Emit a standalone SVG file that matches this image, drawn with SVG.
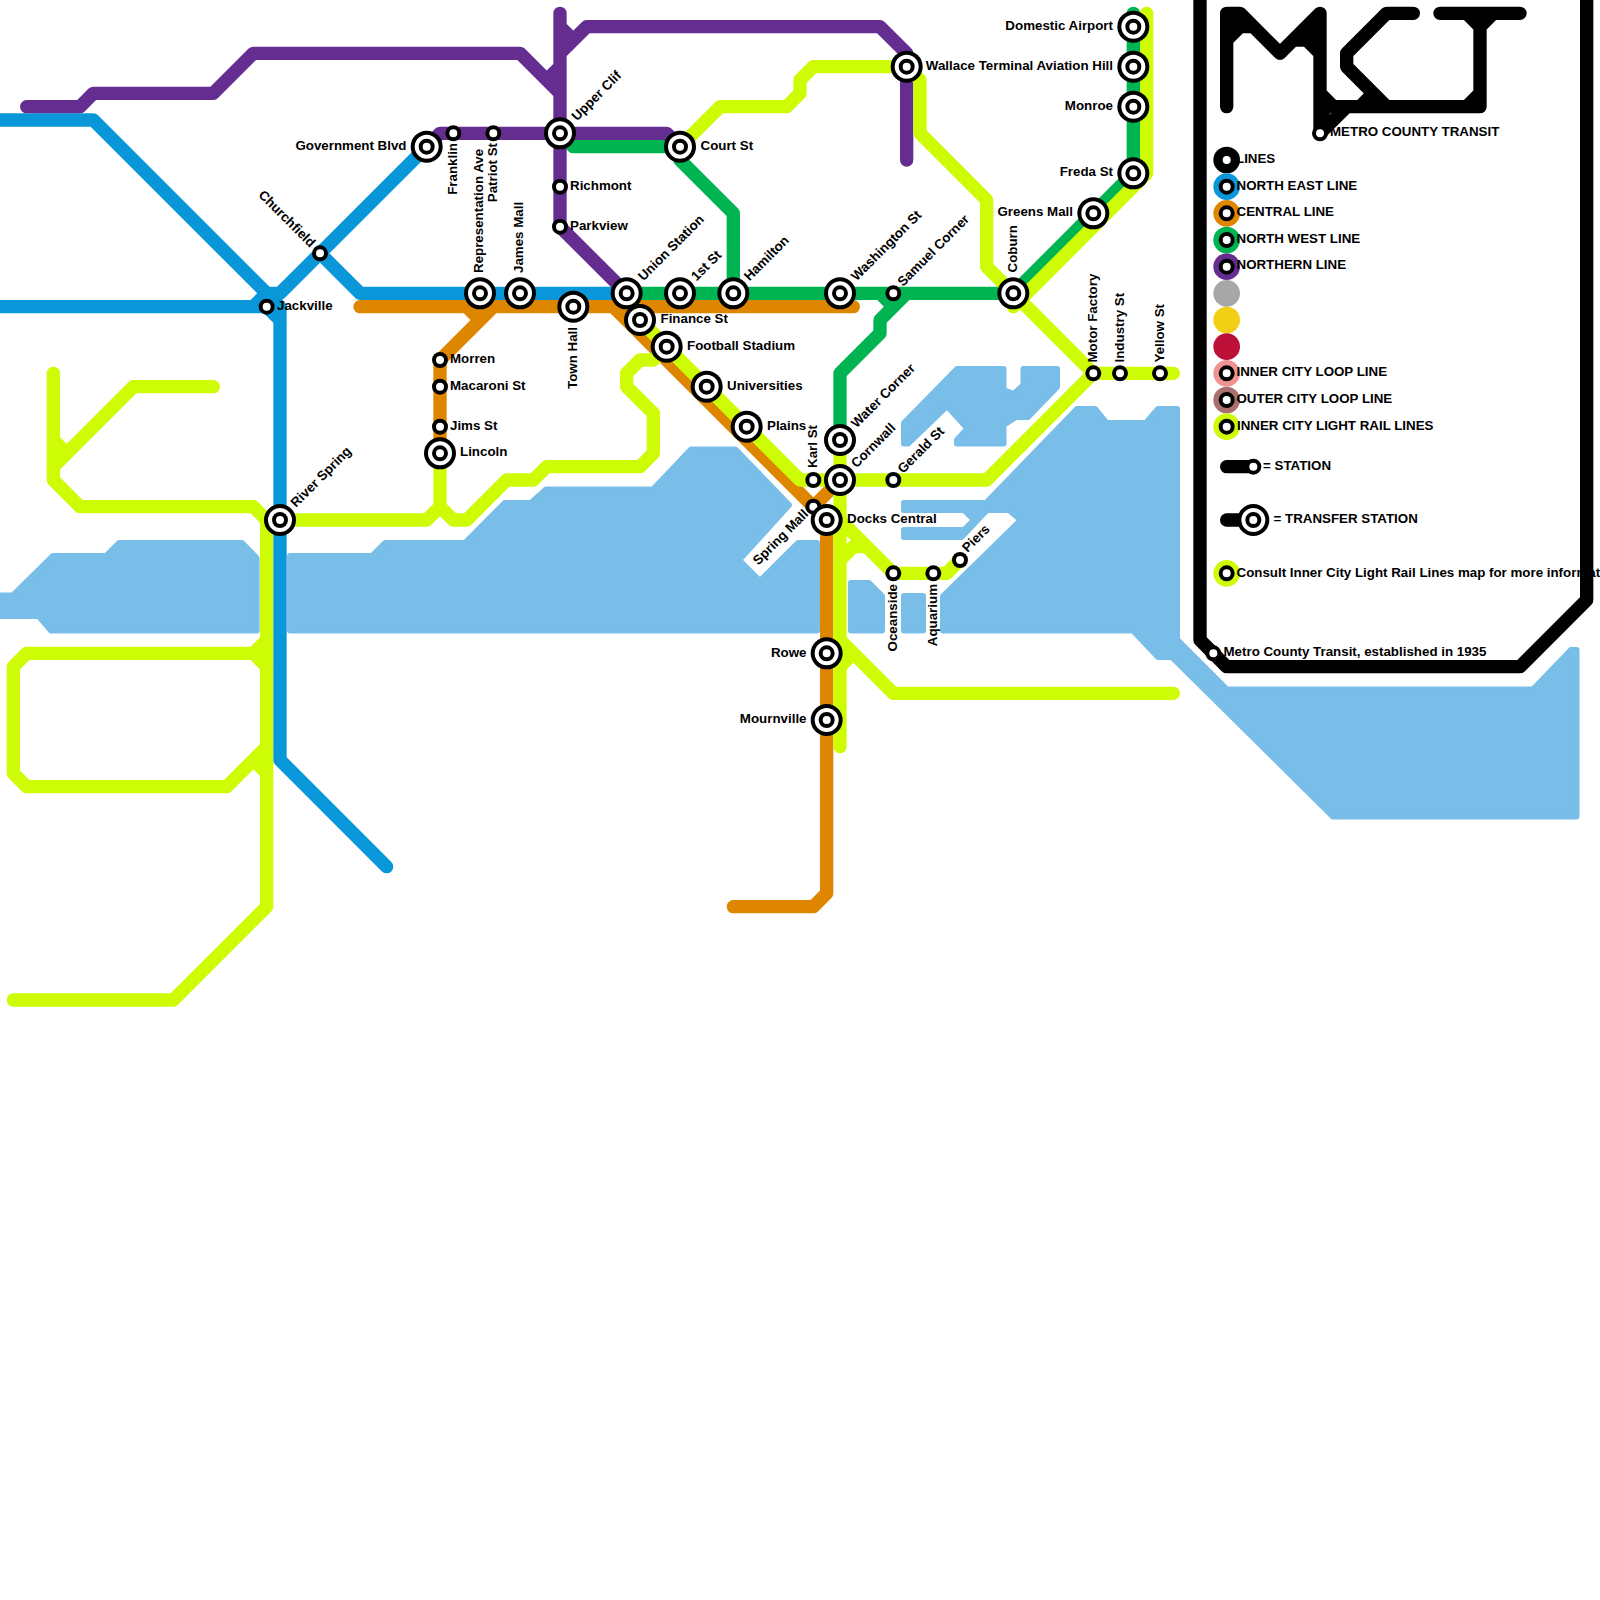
<svg xmlns="http://www.w3.org/2000/svg" xmlns:xlink="http://www.w3.org/1999/xlink" width="1600" height="1600" viewBox="0 0 1600 1600">
<style>
.l{fill:none;stroke-width:13.33;stroke-linecap:round;stroke-linejoin:round}
.b{stroke:#0a97d9}.o{stroke:#df8600}.g{stroke:#00b451}.p{stroke:#662d91}.y{stroke:#cefc06}.k{stroke:#000}
.w{fill:#79bde9;stroke:#79bde9;stroke-width:6;stroke-linejoin:round}
text{font-family:"Liberation Sans",Arial,sans-serif;font-weight:700;font-size:13.33px;fill:#000}
.e{text-anchor:end}
.mk{fill:#fff;stroke:#000;stroke-width:4}
</style>
<defs>
<g id="st"><circle r="6" class="mk"/></g>
<g id="tr"><circle r="14" class="mk"/><circle r="6" class="mk"/></g>
</defs>
<rect width="1600" height="1600" fill="#fff"/>
<g id="water">
<path class="w" d="M-5 595.5H13L53 556H106L119 543H242L256.6 558V630.5H51L38.7 616H-5Z"/>
<path class="w" d="M290 556H372L385 543H465L504.8 503H531L546 489.5H653L691 449.5H735.5L789 505L739 560L760 581L798 543H817V630.5H290Z"/>
<path class="w" d="M851 583H869L882 596V630.5H851Z"/>
<path class="w" d="M904 596H923V630.5H904Z"/>
<path class="w" d="M943 630.5V596.5L1021 520L1009 510H987L961.5 537H904V530H964L974 520L964 510H904V503H986L1077 409H1095L1106.5 423H1146L1158 409H1177V639.5L1227 689.6H1533L1571 650H1576.5V816.5H1333L1172 657H1158L1133 630.5Z"/>
<path class="w" d="M904 423L957 369H1003.5V390L1014 394L1023.5 385V369H1057V387L1028 417H1016L1003.5 425V443.5H957V440L967.5 428.6L947 406L908 443.5H904Z"/>
</g>
<g id="connectors">
<path class="l y" d="M53.33 373.33V480L80 506.67H253.33L266.67 520V906.67L173.33 1000H13.33"/>
<path class="l y" d="M213.33 386.67H133.33L53.33 466.67M53.33 440L66.67 453.33"/>
<path class="l y" d="M266.67 640L253.33 653.33H26.67L13.33 666.67V773.33L26.67 786.67H226.67L266.67 746.67M253.33 653.33L266.67 666.67M253.33 760L266.67 773.33"/>
<path class="l b" d="M-10 120H93.33L266.67 293.33L280 306.67V320M-10 306.67H266.67L280 320V760L386.67 866.67M253.33 306.67L266.67 293.33H280L426.67 146.67M320 253.33L360 293.33H626.67"/>
<path class="l o" d="M360 306.67H853.33M613.33 306.67L813.33 506.67L840 480M813.33 506.67L826.67 520V893.33L813.33 906.67H733.33M493.33 306.67L440 360V453.33M466.67 306.67L480 320"/>
<path class="l g" d="M560 133.33L573.33 146.67H680V160L733.33 213.33V293.33M626.67 293.33H1013.33L1133.33 173.33V13.33M880 293.33L893.33 306.67M906.67 293.33L880 320V333.33L840 373.33V440"/>
<path class="l p" d="M26.67 106.67H80L93.33 93.33H213.33L253.33 53.33H520L560 93.33V226.67L626.67 293.33M560 13.33V26.67L573.33 40M560 66.67L546.67 80M560 13.33V93.33M560 53.33L586.67 26.67H880L906.67 53.33V160M426.67 146.67L440 133.33H666.67L680 146.67"/>
<path class="l y" d="M280 520H426.67L440 506.67V453.33M440 506.67L453.33 520H466.67L506.67 480H533.33L546.67 466.67H640L653.33 453.33V413.33L626.67 386.67V373.33L640 360H653.33L666.67 346.67"/>
<path class="l y" d="M640 320L800 480H986.67L1093.33 373.33H1173.33"/>
<path class="l y" d="M680 146.67L720 106.67H786.67L800 93.33V80L813.33 66.67H906.67L920 80V133.33L986.67 200V266.67L1093.33 373.33"/>
<path class="l y" d="M1146.67 13.33V173.33L1013.33 306.67"/>
<path class="l y" d="M840 440V746.67M840 520L893.33 573.33H946.67L960 560M840 560L853.33 546.67H866.67M840 640L893.33 693.33H1173.33M840 666.67L853.33 653.33"/>
</g>
<g id="nodes">
<g id="n-jackville"><use href="#st" x="266.67" y="306.67"/><text x="277" y="309.5">Jackville</text></g>
<g id="n-churchfield"><use href="#st" x="320" y="253.33"/><text transform="translate(310 248) rotate(45)" class="e">Churchfield</text></g>
<g id="n-river-spring"><use href="#tr" x="280" y="520"/><text transform="translate(296 508) rotate(-45)">River Spring</text></g>
<g id="n-government-blvd"><use href="#tr" x="426.67" y="146.67"/><text x="406.5" y="150" class="e">Government Blvd</text></g>
<g id="n-franklin"><use href="#st" x="453.33" y="133.33"/><text transform="translate(457 143) rotate(-90)" class="e">Franklin</text></g>
<g id="n-patriot-st"><use href="#st" x="493.33" y="133.33"/><text transform="translate(497 143) rotate(-90)" class="e">Patriot St</text></g>
<g id="n-representation-ave"><use href="#tr" x="480" y="293.33"/><text transform="translate(483 273) rotate(-90)">Representation Ave</text></g>
<g id="n-james-mall"><use href="#tr" x="520" y="293.33"/><text transform="translate(523 273) rotate(-90)">James Mall</text></g>
<g id="n-town-hall"><use href="#tr" x="573.33" y="306.67"/><text transform="translate(577 327) rotate(-90)" class="e">Town Hall</text></g>
<g id="n-upper-clif"><use href="#tr" x="560" y="133.33"/><text transform="translate(577 121.5) rotate(-45)">Upper Clif</text></g>
<g id="n-richmont"><use href="#st" x="560" y="186.67"/><text x="570" y="190">Richmont</text></g>
<g id="n-parkview"><use href="#st" x="560" y="226.67"/><text x="570" y="230">Parkview</text></g>
<g id="n-court-st"><use href="#tr" x="680" y="146.67"/><text x="700.5" y="150">Court St</text></g>
<g id="n-union-station"><use href="#tr" x="626.67" y="293.33"/><text transform="translate(643.5 281.5) rotate(-45)">Union Station</text></g>
<g id="n-1st-st"><use href="#tr" x="680" y="293.33"/><text transform="translate(696.5 281.5) rotate(-45)">1st St</text></g>
<g id="n-hamilton"><use href="#tr" x="733.33" y="293.33"/><text transform="translate(749.5 281.5) rotate(-45)">Hamilton</text></g>
<g id="n-washington-st"><use href="#tr" x="840" y="293.33"/><text transform="translate(856.5 281.5) rotate(-45)">Washington St</text></g>
<g id="n-samuel-corner"><use href="#st" x="893.33" y="293.33"/><text transform="translate(903 287) rotate(-45)">Samuel Corner</text></g>
<g id="n-coburn"><use href="#tr" x="1013.33" y="293.33"/><text transform="translate(1016.5 272.5) rotate(-90)">Coburn</text></g>
<g id="n-greens-mall"><use href="#tr" x="1093.33" y="213.33"/><text x="1073" y="216" class="e">Greens Mall</text></g>
<g id="n-freda-st"><use href="#tr" x="1133.33" y="173.33"/><text x="1113" y="176" class="e">Freda St</text></g>
<g id="n-monroe"><use href="#tr" x="1133.33" y="106.67"/><text x="1113" y="110" class="e">Monroe</text></g>
<g id="n-wallace"><use href="#tr" x="1133.33" y="66.67"/><text x="1113" y="70" class="e">Wallace Terminal Aviation Hill</text><use href="#tr" x="906.67" y="66.67"/></g>
<g id="n-domestic-airport"><use href="#tr" x="1133.33" y="26.67"/><text x="1113" y="30" class="e">Domestic Airport</text></g>
<g id="n-motor-factory"><use href="#st" x="1093.33" y="373.33"/><text transform="translate(1096.5 362.5) rotate(-90)">Motor Factory</text></g>
<g id="n-industry-st"><use href="#st" x="1120" y="373.33"/><text transform="translate(1123.5 362.5) rotate(-90)">Industry St</text></g>
<g id="n-yellow-st"><use href="#st" x="1160" y="373.33"/><text transform="translate(1163.5 362.5) rotate(-90)">Yellow St</text></g>
<g id="n-morren"><use href="#st" x="440" y="360"/><text x="450" y="363">Morren</text></g>
<g id="n-macaroni-st"><use href="#st" x="440" y="386.67"/><text x="450" y="390">Macaroni St</text></g>
<g id="n-jims-st"><use href="#st" x="440" y="426.67"/><text x="450" y="430">Jims St</text></g>
<g id="n-lincoln"><use href="#tr" x="440" y="453.33"/><text x="460" y="456">Lincoln</text></g>
<g id="n-finance-st"><use href="#tr" x="640" y="320"/><text x="660.5" y="323">Finance St</text></g>
<g id="n-football-stadium"><use href="#tr" x="666.67" y="346.67"/><text x="687" y="350">Football Stadium</text></g>
<g id="n-universities"><use href="#tr" x="706.67" y="386.67"/><text x="727" y="390">Universities</text></g>
<g id="n-plains"><use href="#tr" x="746.67" y="426.67"/><text x="767" y="430">Plains</text></g>
<g id="n-karl-st"><use href="#st" x="813.33" y="480"/><text transform="translate(817 468) rotate(-90)">Karl St</text></g>
<g id="n-water-corner"><use href="#tr" x="840" y="440"/><text transform="translate(856.5 428.5) rotate(-45)">Water Corner</text></g>
<g id="n-cornwall"><use href="#tr" x="840" y="480"/><text transform="translate(856.5 468.5) rotate(-45)">Cornwall</text></g>
<g id="n-gerald-st"><use href="#st" x="893.33" y="480"/><text transform="translate(903 474) rotate(-45)">Gerald St</text></g>
<g id="n-spring-mall"><use href="#st" x="813.33" y="506.67"/><text transform="translate(809 515) rotate(-45)" class="e">Spring Mall</text></g>
<g id="n-docks-central"><use href="#tr" x="826.67" y="520"/><text x="847" y="523">Docks Central</text></g>
<g id="n-oceanside"><use href="#st" x="893.33" y="573.33"/><text transform="translate(897 584) rotate(-90)" class="e">Oceanside</text></g>
<g id="n-aquarium"><use href="#st" x="933.33" y="573.33"/><text transform="translate(937 584) rotate(-90)" class="e">Aquarium</text></g>
<g id="n-piers"><use href="#st" x="960" y="560"/><text transform="translate(967.5 553) rotate(-45)">Piers</text></g>
<g id="n-rowe"><use href="#tr" x="826.67" y="653.33"/><text x="806.5" y="656.5" class="e">Rowe</text></g>
<g id="n-mournville"><use href="#tr" x="826.67" y="720"/><text x="806.5" y="723" class="e">Mournville</text></g>
</g>
<g id="logo">
<path class="l k" d="M1226.67 106.67V13.33H1240L1280 53.33L1320 13.33V133.33M1226.67 40L1240 26.67H1253.33M1293.33 40H1306.67L1320 53.33M1320 93.33L1333.33 106.67H1480V13.33M1320 133.33L1346.67 106.67M1413.33 13.33H1386.67L1346.67 53.33V66.67L1386.67 106.67M1360 106.67L1373.33 93.33M1440 13.33H1520M1466.67 13.33L1480 26.67L1493.33 13.33M1466.67 106.67L1480 93.33"/>
<path fill="#000" d="M1226.67 13.33H1240L1253.33 26.67H1240L1226.67 40ZM1280 53.33L1320 13.33V53.33L1306.67 40H1293.33ZM1320 93.33L1333.33 106.67L1320 133.33Z"/>
<use href="#st" x="1320" y="133.33"/>
<text x="1330" y="136">METRO COUNTY TRANSIT</text>
</g>
<g id="legend">
<circle cx="1226.67" cy="160" r="13.33" fill="#000"/><use href="#st" x="1226.67" y="160"/><text x="1236" y="162.5">LINES</text>
<circle cx="1226.67" cy="186.67" r="13.33" fill="#0a97d9"/><use href="#st" x="1226.67" y="186.67"/><text x="1236.5" y="189.5">NORTH EAST LINE</text>
<circle cx="1226.67" cy="213.33" r="13.33" fill="#df8600"/><use href="#st" x="1226.67" y="213.33"/><text x="1236.5" y="216">CENTRAL LINE</text>
<circle cx="1226.67" cy="240" r="13.33" fill="#00b451"/><use href="#st" x="1226.67" y="240"/><text x="1236.5" y="242.5">NORTH WEST LINE</text>
<circle cx="1226.67" cy="266.67" r="13.33" fill="#662d91"/><use href="#st" x="1226.67" y="266.67"/><text x="1236.5" y="269">NORTHERN LINE</text>
<circle cx="1226.67" cy="293.33" r="13.33" fill="#a7a7a7"/>
<circle cx="1226.67" cy="320" r="13.33" fill="#f0cf14"/>
<circle cx="1226.67" cy="346.67" r="13.33" fill="#bd1038"/>
<circle cx="1226.67" cy="373.33" r="13.33" fill="#f19392"/><use href="#st" x="1226.67" y="373.33"/><text x="1236.5" y="375.5">INNER CITY LOOP LINE</text>
<circle cx="1226.67" cy="400" r="13.33" fill="#a9706f"/><use href="#st" x="1226.67" y="400"/><text x="1236.5" y="402.5">OUTER CITY LOOP LINE</text>
<circle cx="1226.67" cy="426.67" r="13.33" fill="#cefc06"/><use href="#st" x="1226.67" y="426.67"/><text x="1237" y="429.5">INNER CITY LIGHT RAIL LINES</text>
<path class="l k" d="M1226.67 466.67H1253.33M1226.67 520H1253.33"/>
<use href="#st" x="1253.33" y="466.67"/><text x="1263" y="470">= STATION</text>
<use href="#tr" x="1253.33" y="520"/><text x="1273.5" y="523">= TRANSFER STATION</text>
<circle cx="1226.67" cy="573.33" r="13.33" fill="#cefc06"/><use href="#st" x="1226.67" y="573.33"/><text x="1236.5" y="576.5">Consult Inner City Light Rail Lines map for more information</text>
</g>
<g id="frame">
<path class="l k" d="M1200 -10V640L1226.67 666.67H1520L1586.67 600V-10"/>
<use href="#st" x="1213.33" y="653.33"/>
<text x="1223.5" y="656">Metro County Transit, established in 1935</text>
</g>
</svg>
